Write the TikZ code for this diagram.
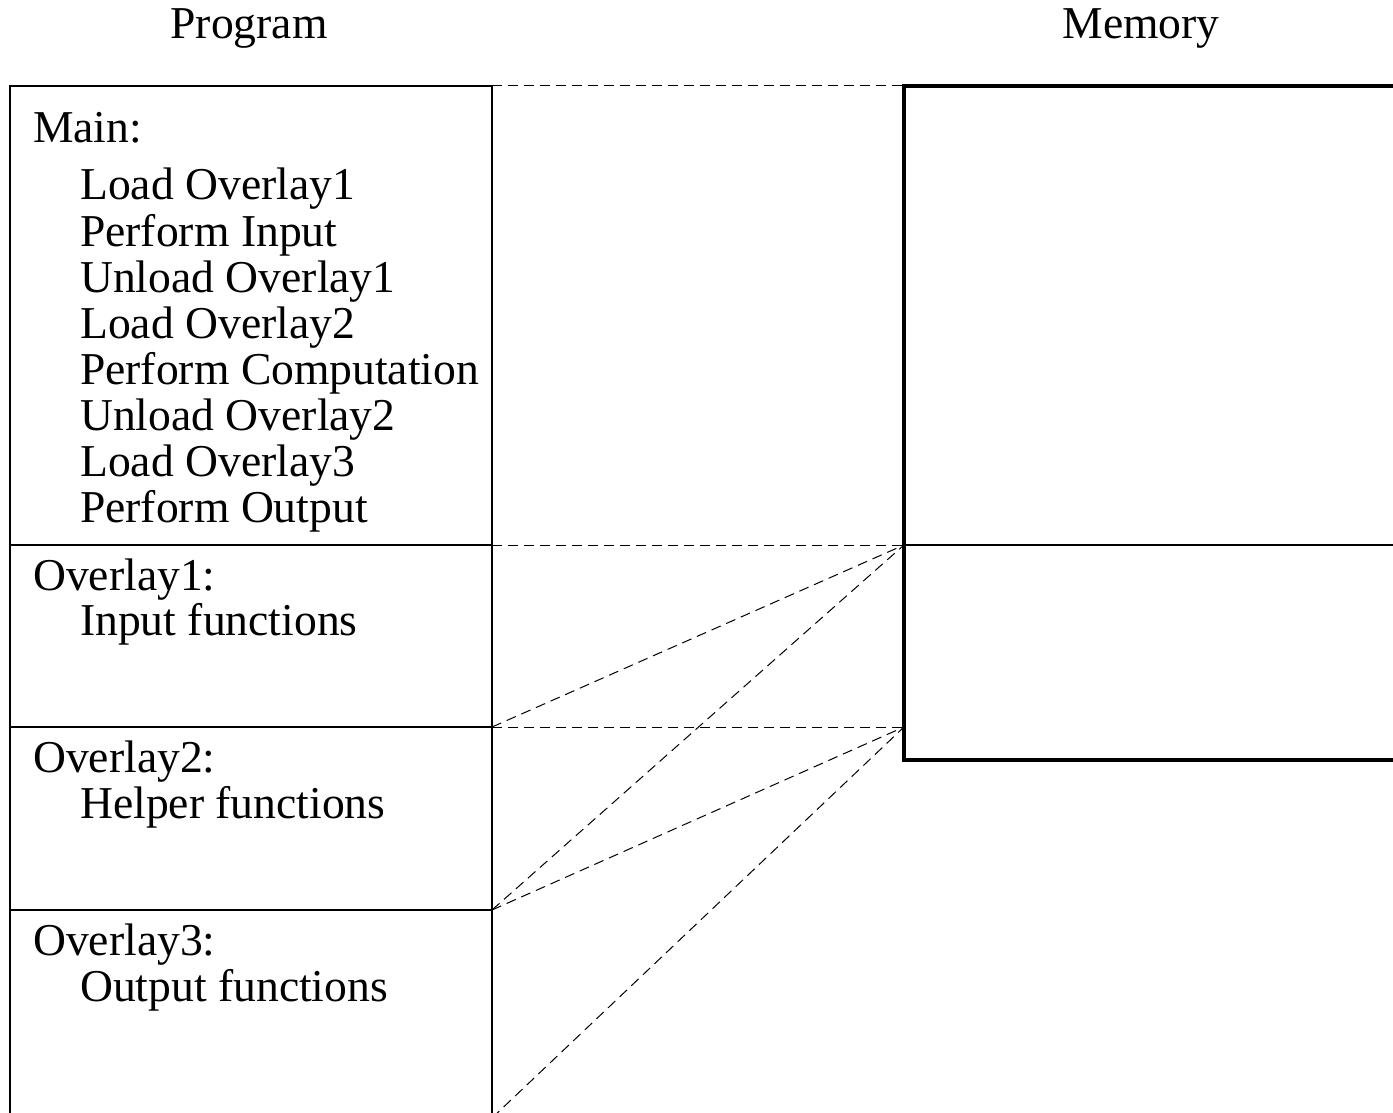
\documentclass[tikz,border=0pt]{standalone}
\usepackage{fontspec}
\setmainfont{Liberation Serif}
\begin{document}
\begin{tikzpicture}[x=1pt,y=-1pt,
  txt/.style={anchor=base west, inner sep=0pt, font=\fontsize{45.6}{46}\selectfont},
  ttl/.style={anchor=base, inner sep=0pt, font=\fontsize{45.6}{46}\selectfont},
  progline/.style={line width=2pt},
  memline/.style={line width=4.5pt},
  link/.style={line width=1pt, dash pattern=on 10pt off 6pt}]
\useasboundingbox (0,0) rectangle (1393,1113);
\clip (0,0) rectangle (1393,1113);

% titles
\node[ttl] (progtitle) at (249,39) {Program};
\node[ttl] (memtitle) at (1141,39) {Memory};

% program layout: boundaries between sections
\coordinate (p0) at (492,86);
\coordinate (p1) at (492,545);
\coordinate (p2) at (492,727);
\coordinate (p3) at (492,910);
\coordinate (p4) at (492,1118);

% memory layout
\coordinate (m0) at (904,86);
\coordinate (m1) at (904,545);
\coordinate (m2) at (904,727);

% program box with its sections
\draw[progline] (10,86) rectangle (p4);
\draw[progline] (10,545) -- (p1);
\draw[progline] (10,727) -- (p2);
\draw[progline] (10,910) -- (p3);

% memory box
\draw[memline] (1410,86) -- (m0) -- (904,760) -- (1410,760);
\draw[progline] (m1) -- (1410,545);

% section texts
\node[txt] (main) at (33,143) {Main:};
\node[txt] (l1) at (80,200) {Load Overlay1};
\node[txt] (l2) at (80,246) {Perform Input};
\node[txt] (l3) at (80,292) {Unload Overlay1};
\node[txt] (l4) at (80,338) {Load Overlay2};
\node[txt] (l5) at (80,384) {Perform Computation};
\node[txt] (l6) at (80,430) {Unload Overlay2};
\node[txt] (l7) at (80,476) {Load Overlay3};
\node[txt] (l8) at (80,522) {Perform Output};

\node[txt] (ov1) at (33,590) {Overlay1:};
\node[txt] (ov1f) at (80,635) {Input functions};
\node[txt] (ov2) at (33,772) {Overlay2:};
\node[txt] (ov2f) at (80,818) {Helper functions};
\node[txt] (ov3) at (33,955) {Overlay3:};
\node[txt] (ov3f) at (80,1001) {Output functions};

% mapping of program sections onto memory
\draw[link] (p0) -- (m0);
\draw[link] (p1) -- (m1);
\draw[link] (p2) -- (m1);
\draw[link] (p2) -- (m2);
\draw[link] (p3) -- (m1);
\draw[link] (p3) -- (m2);
\draw[link] (p4) -- (m2);
\end{tikzpicture}
\end{document}
